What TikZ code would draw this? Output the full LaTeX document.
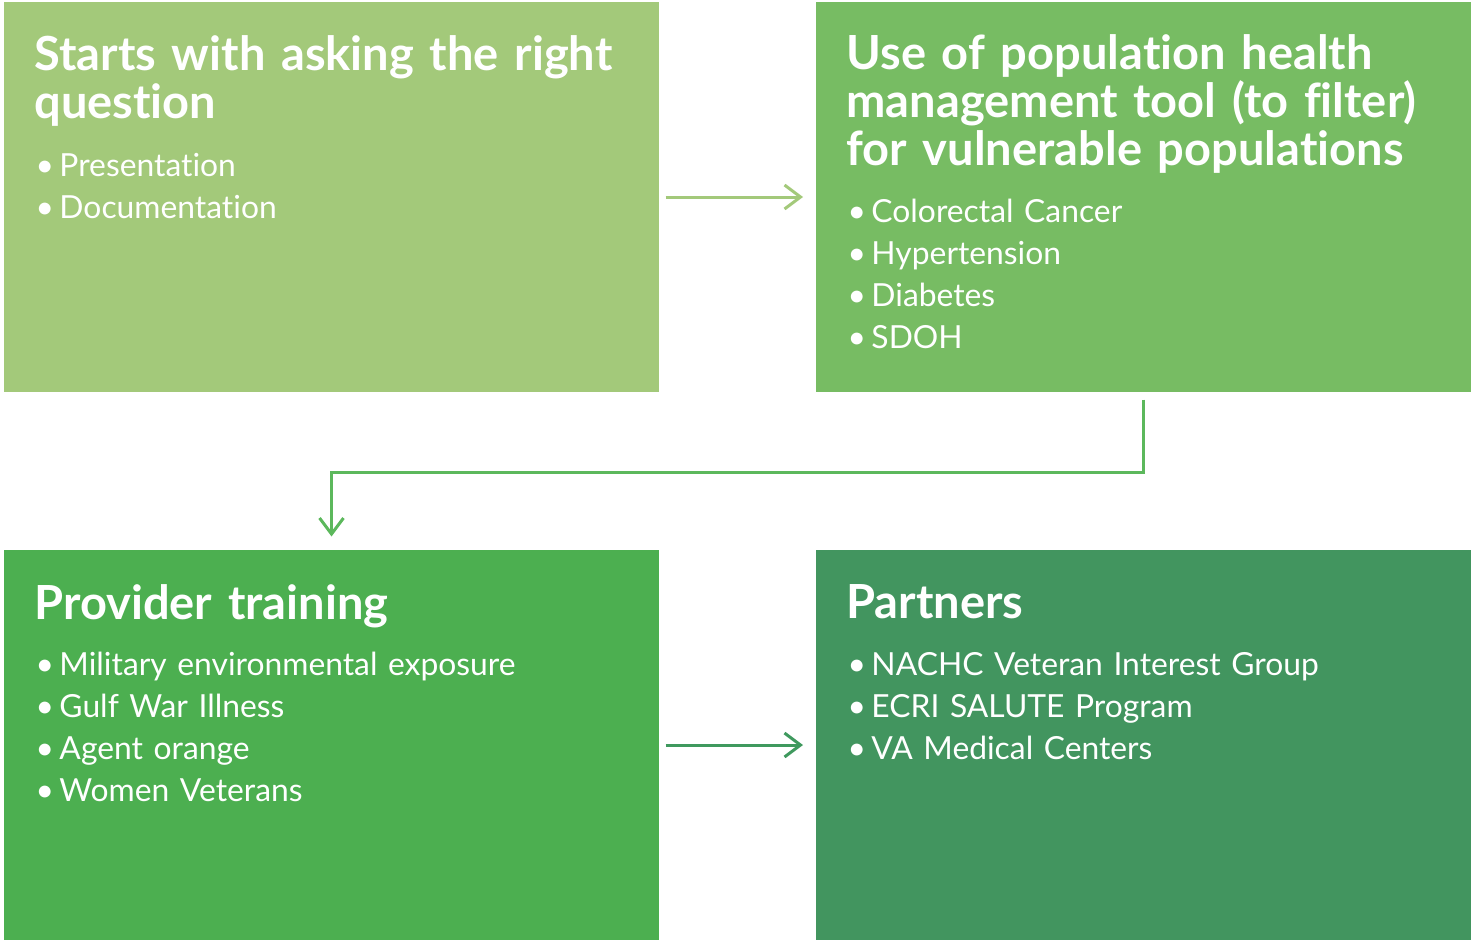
\documentclass[tikz,border=0pt]{standalone}
\usepackage{fontspec}
\setmainfont{Lato}[Ligatures=NoCommon]
\usetikzlibrary{arrows.meta}
\definecolor{greenA}{HTML}{A3C97A}
\definecolor{greenB}{HTML}{77BC63}
\definecolor{greenC}{HTML}{4CAF50}
\definecolor{greenD}{HTML}{42955F}
\definecolor{linkB}{HTML}{5CB85C}
\definecolor{linkD}{HTML}{3F995E}
\newcommand{\itm}[1]{\makebox[24pt][l]{\textbullet}#1}
\tikzset{
  panel/.style={rectangle,inner sep=0pt,minimum width=655pt,minimum height=390pt},
  headtxt/.style={anchor=base west,inner sep=0pt,text=white,text width=630pt,align=left,
    font=\bfseries\fontsize{47}{48}\selectfont},
  listtxt/.style={anchor=base west,inner sep=0pt,text=white,text width=610pt,align=left,
    font=\fontsize{31.8}{42}\selectfont},
}
\begin{document}
\begin{tikzpicture}[x=1pt,y=-1pt,line width=3pt,>={Straight Barb[length=16pt,width=24pt]}]
			\useasboundingbox (0,0) rectangle (1474,939);
			% the four panels
			\node[panel,fill=greenA] (b1) at (331.5,197) {};
			\node[panel,fill=greenB] (b2) at (1143,197) {};
			\node[panel,fill=greenC] (b3) at (331.5,745) {};
			\node[panel,fill=greenD] (b4) at (1143,745) {};
			% headings
			\node[headtxt] (h1) at (33,71) {Starts with asking the right\\question};
			\node[headtxt] (h2) at (845,70) {Use of population health\\management tool (to filter)\\for vulnerable populations};
			\node[headtxt] (h3) at (33,619) {Provider training};
			\node[headtxt] (h4) at (845,618) {Partners};
			% bullet lists
			\node[listtxt] (l1) at (34,176) {\itm{Presentation}\\\itm{Documentation}};
			\node[listtxt] (l2) at (846,222) {\itm{Colorectal Cancer}\\\itm{Hypertension}\\\itm{Diabetes}\\\itm{SDOH}};
			\node[listtxt] (l3) at (34,675) {\itm{Military environmental exposure}\\\itm{Gulf War Illness}\\\itm{Agent orange}\\\itm{Women Veterans}};
			\node[listtxt] (l4) at (846,675) {\itm{NACHC Veteran Interest Group}\\\itm{ECRI SALUTE Program}\\\itm{VA Medical Centers}};
			% connectors
			\draw[->,greenA,shorten <=5pt,shorten >=11pt] (b1.east) -- (b2.west);
			\draw[->,linkB,shorten <=6pt,shorten >=12pt] (b2.south) -- ++(0,79) -| (b3.north);
			\draw[->,linkD,shorten <=5pt,shorten >=11pt] (b3.east) -- (b4.west);
		\end{tikzpicture}
\end{document}
